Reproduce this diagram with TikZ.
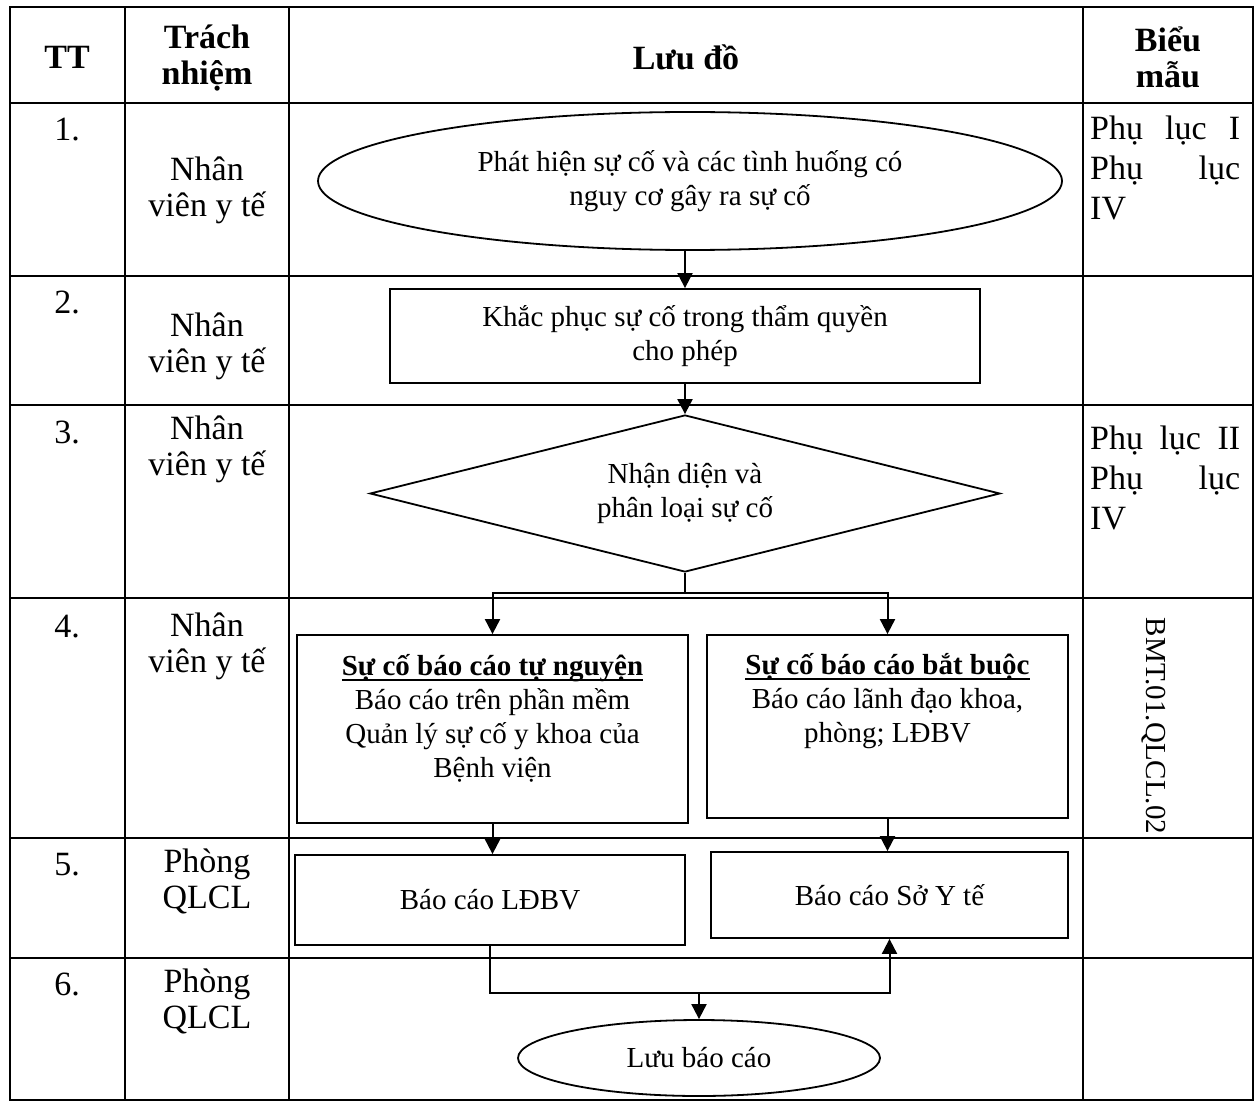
\documentclass[tikz,border=0pt]{standalone}
\usepackage{fontspec}
\setmainfont{Liberation Serif}
\usetikzlibrary{shapes.geometric,arrows.meta}
\newcommand\fsz{\fontsize{29}{34}\selectfont}
\newcommand\tsz{\fontsize{34}{36}\selectfont}
\newcommand\myul[1]{\setbox0\hbox{#1}\rlap{\rule[-6pt]{\wd0}{2.4pt}}\box0}
\begin{document}
\begin{tikzpicture}[x=1pt,y=-1pt,
  txt/.style={inner sep=0pt,align=center,font=\fsz},
  ttx/.style={inner sep=0pt,align=center,font=\tsz},
  hd/.style={inner sep=0pt,align=center,font=\tsz\bfseries},
  box/.style={draw,line width=1.8pt,inner sep=0pt,align=center,font=\fsz},
  conn/.style={line width=2pt},
  arr/.style={conn,-{Triangle[length=15pt,width=15pt]}},
  gridline/.style={line width=2.4pt}]
\fill[white] (0,0) rectangle (1255,1102);
\useasboundingbox (0,0) rectangle (1255,1102);
% table
\draw[gridline] (10,7) rectangle (1253,1100);
\foreach \x in {125,289,1083} \draw[gridline] (\x,7) -- (\x,1100);
\foreach \y in {103,276,405,598,838,958} \draw[gridline] (10,\y) -- (1253,\y);
% header
\node[hd] (hTT) at (67,57) {TT};
\node[hd] (hTN) at (207,58) {Trách\\nhiệm};
\node[hd] (hLD) at (686,57) {Lưu đồ};
\node[hd] (hBM) at (1168,57) {Biểu\\mẫu};
% row numbers
\node[ttx,anchor=base] (n1) at (67,141) {1.};
\node[ttx,anchor=base] (n2) at (67,313) {2.};
\node[ttx,anchor=base] (n3) at (67,443) {3.};
\node[ttx,anchor=base] (n4) at (67,637) {4.};
\node[ttx,anchor=base] (n5) at (67,875) {5.};
\node[ttx,anchor=base] (n6) at (67,995) {6.};
% responsibility
\node[ttx] (r1) at (207,190) {Nhân\\viên y tế};
\node[ttx] (r2t) at (207,346) {Nhân\\viên y tế};
\node[ttx] (r3) at (207,449) {Nhân\\viên y tế};
\node[ttx] (r4) at (207,646) {Nhân\\viên y tế};
\node[ttx] (r5) at (207,881) {Phòng\\QLCL};
\node[ttx] (r6) at (207,1001) {Phòng\\QLCL};
% forms
\node[ttx,anchor=base west] (bm1) at (1090,140)
  {\parbox[t]{150pt}{\fontsize{34}{40}\selectfont Phụ\hfill lục\hfill I\\Phụ\hfill lục\\IV}};
\node[ttx,anchor=base west] (bm3) at (1090,449)
  {\parbox[t]{150pt}{\fontsize{34}{40}\selectfont Phụ\hfill lục\hfill II\\Phụ\hfill lục\\IV}};
\node[txt,rotate=-90,anchor=base] (bm4) at (1146,726) {BMT.01.QLCL.02};
% flowchart
\node[box,ellipse,minimum width=744pt,minimum height=138pt] (e1) at (690,181)
  {Phát hiện sự cố và các tình huống có\\nguy cơ gây ra sự cố};
\node[box,rectangle,minimum width=590pt,minimum height=94pt] (s2) at (685,336)
  {Khắc phục sự cố trong thẩm quyền\\cho phép};
\node[box,diamond,shape aspect=4.01,minimum width=630pt,minimum height=157pt] (d3) at (685,493.5)
  {Nhận diện và\\phân loại sự cố};
\node[box,rectangle,minimum width=391pt,minimum height=188pt] (b4a) at (492.5,729) {};
\node[txt] (t4a) at (492.5,718)
  {\myul{\textbf{Sự cố báo cáo tự nguyện}}\\Báo cáo trên phần mềm\\Quản lý sự cố y khoa của\\Bệnh viện};
\node[box,rectangle,minimum width=361pt,minimum height=183pt] (b4b) at (887.5,726.5) {};
\node[txt] (t4b) at (887.5,701)
  {\myul{\textbf{Sự cố báo cáo bắt buộc}}\\Báo cáo lãnh đạo khoa,\\phòng; LĐBV};
\node[box,rectangle,minimum width=390pt,minimum height=90pt] (b5a) at (490,900) {Báo cáo LĐBV};
\node[box,rectangle,minimum width=357pt,minimum height=86pt] (b5b) at (889.5,895) {Báo cáo Sở Y tế};
\node[box,ellipse,minimum width=362pt,minimum height=76pt] (e6) at (699,1058) {Lưu báo cáo};
% connectors
\coordinate (j1) at (685,593);
\coordinate (j2) at (699,993);
\draw[arr] (s2.north |- e1.south) -- (s2.north);
\draw[arr] (s2.south) -- (d3.north);
\draw[conn] (d3.south) -- (j1);
\draw[arr] (j1) -| (b4a.north);
\draw[arr] (j1) -| (b4b.north);
\draw[arr] (b4a.south) -- (b4a.south |- b5a.north);
\draw[arr] (b4b.south) -- (b4b.south |- b5b.north);
\draw[arr] (b5a.south) |- (j2) -| (b5b.south);
\draw[arr] (j2) -- (e6.north);
\end{tikzpicture}
\end{document}
